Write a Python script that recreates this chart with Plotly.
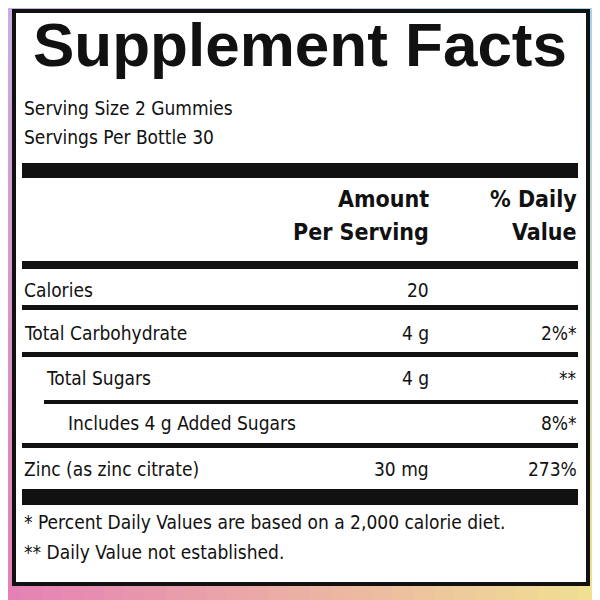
import plotly.graph_objects as go

title = "Supplement Facts"
serving_lines = ["Serving Size 2 Gummies", "Servings Per Bottle 30"]
header_amount = ["Amount", "Per Serving"]
header_dv = ["% Daily", "Value"]
nutrients = ["Calories", "Total Carbohydrate", "Total Sugars", "Includes 4 g Added Sugars", "Zinc (as zinc citrate)"]
amounts = ["20", "4 g", "4 g", "", "30 mg"]
daily_values = ["", "2%*", "**", "8%*", "273%"]
indents = [0, 0, 1, 2, 0]
footnotes = ["* Percent Daily Values are based on a 2,000 calorie diet.", "** Daily Value not established."]

fig = go.Figure()
shapes = []
TL, TR, BL, BR = (200, 175, 225), (160, 215, 240), (232, 125, 180), (245, 230, 140)
n = 30
for i in range(n):
    for j in range(n):
        u, v = (i + 0.5) / n, (j + 0.5) / n
        c = [int(TL[k]*(1-u)*(1-v) + TR[k]*u*(1-v) + BL[k]*(1-u)*v + BR[k]*u*v) for k in range(3)]
        shapes.append(dict(type="rect", x0=i*620/n, x1=(i+1)*620/n+1, y0=j*620/n, y1=(j+1)*620/n+1,
                           fillcolor=f"rgb({c[0]},{c[1]},{c[2]})", line_width=0, layer="below"))
shapes.append(dict(type="rect", x0=14, x1=588, y0=11, y1=584, fillcolor="white",
                   line=dict(color="#111", width=4), layer="below"))
def bar(y0, y1, x0=22, x1=578):
    shapes.append(dict(type="rect", x0=x0, x1=x1, y0=y0, y1=y1, fillcolor="#111", line_width=0))
bar(163, 178)
bar(261, 269)
row_y = [290, 333, 378, 423, 469]
sep = [(305, 310, 22), (352, 357, 22), (400, 404, 44), (443, 448, 22)]
for y0, y1, x0 in sep:
    bar(y0, y1, x0)
bar(489, 505)

ann = []
F = "DejaVu Sans Condensed, Liberation Sans Narrow, Liberation Sans"
def t(x, y, s, size=19, bold=False, anchor="left", font=F):
    ann.append(dict(x=x, y=y, text=f"<b>{s}</b>" if bold else s, showarrow=False, xanchor=anchor,
                    yanchor="middle", font=dict(family=font, size=size, color="#111")))
t(300, 44, title, size=62, bold=True, anchor="center", font="Liberation Sans")
t(22, 108, serving_lines[0]); t(22, 137, serving_lines[1])
t(431, 199, header_amount[0], 23, True, "right"); t(431, 232, header_amount[1], 23, True, "right")
t(579, 199, header_dv[0], 23, True, "right"); t(579, 232, header_dv[1], 23, True, "right")
for y, name, a, dv, ind in zip(row_y, nutrients, amounts, daily_values, indents):
    t(22 + ind*22, y, name)
    if a: t(431, y, a, anchor="right")
    if dv: t(579, y, dv, anchor="right")
t(22, 522, footnotes[0]); t(22, 552, footnotes[1])

fig.update_layout(width=600, height=600, margin=dict(l=0, r=0, t=0, b=0), shapes=shapes, annotations=ann,
                  xaxis=dict(range=[8, 608], visible=False, fixedrange=True),
                  yaxis=dict(range=[608, 8], visible=False, fixedrange=True),
                  plot_bgcolor="white", paper_bgcolor="white", showlegend=False)
fig.write_html("out.html", config={"displayModeBar": False})
